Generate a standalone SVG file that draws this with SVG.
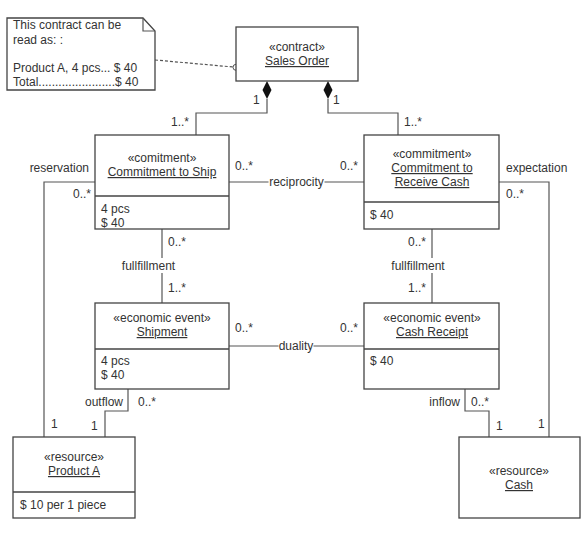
<svg xmlns="http://www.w3.org/2000/svg" width="581" height="543" viewBox="0 0 581 543">
<style>
text{font-family:"Liberation Sans",Arial,sans-serif;font-size:12px;fill:#333}
.c{text-anchor:middle}
.r{text-anchor:end}
.u{text-decoration:underline}
.box{fill:#fff;stroke:#444;stroke-width:1.3}
.ln{fill:none;stroke:#555;stroke-width:1.2}
.bg{fill:#fff}
</style>
<rect width="581" height="543" fill="#fff"/>
<g id="connectors">
<path class="ln" d="M155,60 L233,67" stroke-dasharray="3,2"/>
<circle cx="236" cy="67.3" r="3" fill="#fff" stroke="#555" stroke-width="1"/>
<path class="ln" d="M267,99 V113 H196 V135"/>
<path d="M267,81 L271.5,90 L267,99 L262.5,90 Z" fill="#111"/>
<path class="ln" d="M328,99 V113 H398 V135"/>
<path d="M328,81 L332.5,90 L328,99 L323.5,90 Z" fill="#111"/>
<path class="ln" d="M95,182 H44 V437"/>
<path class="ln" d="M499,182 H549 V437"/>
<path class="ln" d="M229,182 H364"/>
<path class="ln" d="M229,346 H364"/>
<path class="ln" d="M162,229 V303"/>
<path class="ln" d="M432,229 V303"/>
<path class="ln" d="M128,389 V411 H105 V437"/>
<path class="ln" d="M465,389 V411 H489 V437"/>
<rect class="bg" x="268.5" y="175" width="56" height="14"/>
<text class="c" x="296.5" y="186">reciprocity</text>
<rect class="bg" x="278.5" y="339" width="35" height="14"/>
<text class="c" x="296" y="350">duality</text>
<rect class="bg" x="120" y="258" width="58" height="15"/>
<text class="c" x="148.5" y="270">fullfillment</text>
<rect class="bg" x="390" y="258" width="58" height="15"/>
<text class="c" x="418" y="270">fullfillment</text>
<text x="253" y="104">1</text>
<text x="333" y="104">1</text>
<text x="171" y="126">1..*</text>
<text x="404" y="126">1..*</text>
<text class="r" x="89" y="172">reservation</text>
<text x="73" y="198">0..*</text>
<text x="506" y="172">expectation</text>
<text x="506" y="198">0..*</text>
<text x="235" y="170">0..*</text>
<text x="340" y="170">0..*</text>
<text x="168" y="246">0..*</text>
<text x="168" y="292">1..*</text>
<text x="408" y="246">0..*</text>
<text x="408" y="292">1..*</text>
<text x="235" y="332">0..*</text>
<text x="340" y="332">0..*</text>
<text class="r" x="123" y="406">outflow</text>
<text x="138" y="406">0..*</text>
<text x="51" y="428">1</text>
<text x="91" y="430">1</text>
<text class="r" x="460" y="406">inflow</text>
<text x="471" y="406">0..*</text>
<text x="496" y="430">1</text>
<text x="538" y="428">1</text>
</g>
<g id="note">
<path class="box" d="M7,18 H143 L155,31 V90 H7 Z"/>
<path class="ln" d="M143,18 V31 H155" stroke-width="1"/>
<text x="13" y="29">This contract can be</text>
<text x="13" y="44">read as: :</text>
<text x="13" y="72">Product A, 4 pcs... $ 40</text>
<text x="13" y="86">Total.......................$ 40</text>
</g>
<g id="sales-order">
<rect class="box" x="236" y="27" width="122" height="54"/>
<text class="c" x="297" y="51">«contract»</text>
<text class="c u" x="297" y="65">Sales Order</text>
</g>
<g id="commitment-ship">
<rect class="box" x="95" y="135" width="134" height="94"/>
<line x1="95" y1="196" x2="229" y2="196" stroke="#444" stroke-width="1.3"/>
<text class="c" x="162" y="162">«comitment»</text>
<text class="c u" x="162" y="176">Commitment to Ship</text>
<text x="101" y="213">4 pcs</text>
<text x="101" y="227">$ 40</text>
</g>
<g id="commitment-cash">
<rect class="box" x="364" y="135" width="135" height="94"/>
<line x1="364" y1="202" x2="499" y2="202" stroke="#444" stroke-width="1.3"/>
<text class="c" x="432" y="158">«commitment»</text>
<text class="c u" x="432" y="172">Commitment to</text>
<text class="c u" x="432" y="186">Receive Cash</text>
<text x="370" y="219">$ 40</text>
</g>
<g id="shipment">
<rect class="box" x="95" y="303" width="134" height="86"/>
<line x1="95" y1="349" x2="229" y2="349" stroke="#444" stroke-width="1.3"/>
<text class="c" x="162" y="322">«economic event»</text>
<text class="c u" x="162" y="336">Shipment</text>
<text x="101" y="365">4 pcs</text>
<text x="101" y="379">$ 40</text>
</g>
<g id="cash-receipt">
<rect class="box" x="364" y="303" width="135" height="86"/>
<line x1="364" y1="349" x2="499" y2="349" stroke="#444" stroke-width="1.3"/>
<text class="c" x="432" y="322">«economic event»</text>
<text class="c u" x="432" y="336">Cash Receipt</text>
<text x="370" y="365">$ 40</text>
</g>
<g id="product-a">
<rect class="box" x="13" y="437" width="122" height="81"/>
<line x1="13" y1="492" x2="135" y2="492" stroke="#444" stroke-width="1.3"/>
<text class="c" x="74" y="461">«resource»</text>
<text class="c u" x="74" y="475">Product A</text>
<text x="20" y="509">$ 10 per 1 piece</text>
</g>
<g id="cash">
<rect class="box" x="459" y="437" width="121" height="81"/>
<text class="c" x="519" y="475">«resource»</text>
<text class="c u" x="519" y="489">Cash</text>
</g>
</svg>
